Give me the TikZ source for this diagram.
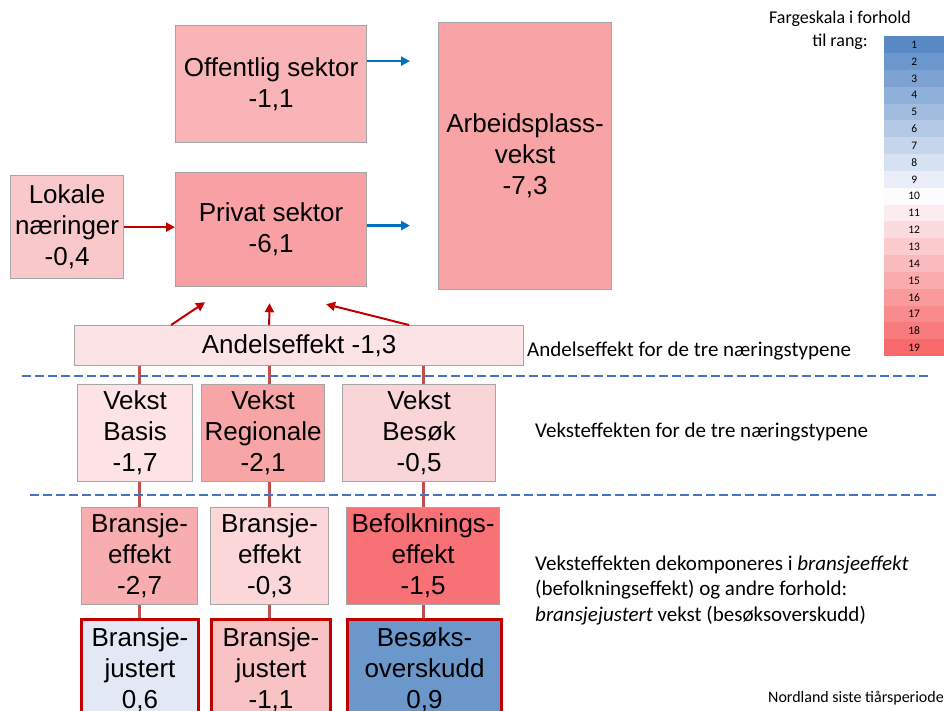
\documentclass[tikz,border=0pt]{standalone}
\usepackage{fontspec}
\setmainfont{Carlito}
\newfontfamily\boxfont{Liberation Sans}
\usetikzlibrary{arrows.meta, backgrounds}

\definecolor{scaleblue}{HTML}{5A8AC6}
\definecolor{scalewhite}{HTML}{FCFCFF}
\definecolor{scalered}{HTML}{F8696B}
\definecolor{darkred}{HTML}{C00000}
\definecolor{arrowblue}{HTML}{0070C0}
\definecolor{sepblue}{HTML}{4472C4}
\definecolor{linkred}{HTML}{C0504D}
\definecolor{offc}{HTML}{F8B4B6}
\definecolor{privc}{HTML}{F8A0A4}
\definecolor{arbc}{HTML}{F8A4A7}
\definecolor{lokc}{HTML}{F9C8CB}
\definecolor{andc}{HTML}{FCE4E6}
\definecolor{vbasc}{HTML}{FDE3E5}
\definecolor{vregc}{HTML}{F8A5A8}
\definecolor{vbesc}{HTML}{FAD5D8}
\definecolor{bbasc}{HTML}{F8AEB1}
\definecolor{bregc}{HTML}{FBD7DA}
\definecolor{bbesc}{HTML}{F87176}
\definecolor{jbasc}{HTML}{E2E9F4}
\definecolor{jregc}{HTML}{F9C2C5}
\definecolor{jbesc}{HTML}{6C97CB}

\begin{document}
\begin{tikzpicture}[x=1pt, y=-1pt,
	box/.style={draw=gray!70, line width=1.2pt, inner sep=0pt, align=center, anchor=north west,
		font=\boxfont\fontsize{26}{31}\selectfont},
	resbox/.style={box, draw=darkred, line width=3pt},
	redarrow/.style={draw=darkred, line width=2pt, -{Triangle[length=9pt,width=9pt]}},
	bluearrow/.style={draw=arrowblue, line width=2.5pt, -{Triangle[length=9pt,width=9pt]}, shorten >=28pt},
	link/.style={draw=linkred, line width=3pt},
	sep/.style={draw=sepblue, line width=2.5pt, dash pattern=on 9pt off 4pt},
	cell/.style={anchor=north west, minimum width=60pt, minimum height=17pt, inner sep=0pt,
		font=\fontsize{11.5}{12}\selectfont},
	note/.style={anchor=west, align=left, inner sep=0pt, font=\fontsize{21}{25.5}\selectfont}]
	\useasboundingbox (0,0) rectangle (944,710);
	\clip (0,0) rectangle (944,710);
	
	% top level
	\node[box, fill=offc, minimum width=191pt, minimum height=117pt] (offentlig) at (175,25) {Offentlig sektor\\-1,1};
	\node[box, fill=privc, minimum width=191pt, minimum height=114pt] (privat) at (175,172) {Privat sektor\\-6,1};
	\node[box, fill=arbc, minimum width=173pt, minimum height=267pt] (arbeid) at (438,22) {Arbeidsplass-\\vekst\\-7,3};
	\node[box, fill=lokc, minimum width=113pt, minimum height=103pt] (lokale) at (10,175) {Lokale\\næringer\\-0,4};
	\node[box, fill=andc, minimum width=449pt, minimum height=40pt] (andel) at (74,325) {Andelseffekt -1,3};
	
	% vekst per naeringstype
	\node[box, fill=vbasc, minimum width=115pt, minimum height=97pt] (vbasis) at (77,384) {Vekst\\Basis\\-1,7};
	\node[box, fill=vregc, minimum width=123pt, minimum height=97pt] (vreg) at (201,384) {Vekst\\Regionale\\-2,1};
	\node[box, fill=vbesc, minimum width=153pt, minimum height=97pt] (vbes) at (342,384) {Vekst\\Besøk\\-0,5};
	
	\node[box, fill=bbasc, minimum width=116pt, minimum height=97pt] (bbasis) at (81,507) {Bransje-\\effekt\\-2,7};
	\node[box, fill=bregc, minimum width=118pt, minimum height=97pt] (breg) at (210,507) {Bransje-\\effekt\\-0,3};
	\node[box, fill=bbesc, minimum width=153pt, minimum height=97pt] (bbes) at (346,507) {Befolknings-\\effekt\\-1,5};
	
	\node[resbox, fill=jbasc, minimum width=117pt, minimum height=100pt] (jbasis) at (80,618) {Bransje-\\justert\\0,6};
	\node[resbox, fill=jregc, minimum width=119pt, minimum height=100pt] (jreg) at (210,618) {Bransje-\\justert\\-1,1};
	\node[resbox, fill=jbesc, minimum width=154pt, minimum height=100pt] (jbes) at (346,618) {Besøks-\\overskudd\\0,9};
	
	\begin{scope}[on background layer]
		\draw[link] (bbasis.north) -- (bbasis.north |- andel.south);
		\draw[link] (breg.north) -- (breg.north |- andel.south);
		\draw[link] (bbes.north) -- (bbes.north |- andel.south);
		\draw[link] (bbasis.south) -- (bbasis.south |- jbasis.north);
		\draw[link] (breg.south) -- (breg.south |- jreg.north);
		\draw[link] (bbes.south) -- (bbes.south |- jbes.north);
	\end{scope}
	
	\coordinate (offout) at ([yshift=23pt]offentlig.east);
	\coordinate (privout) at ([yshift=4pt]privat.east);
	\draw[bluearrow] (offout) -- (offout -| arbeid.west);
	\draw[bluearrow] (privout) -- (privout -| arbeid.west);
	\draw[redarrow] (lokale.east) -- (lokale.east -| privat.west);
	\draw[redarrow] ([xshift=-128pt]andel.north) -- ([xshift=-66pt,yshift=-15pt]privat.south);
	\draw[redarrow] ([xshift=-30pt]andel.north) -- ([xshift=-1.5pt,yshift=-16pt]privat.south);
	\draw[redarrow] ([xshift=110pt]andel.north) -- ([xshift=55pt,yshift=-17pt]privat.south);
	
	\draw[sep] (22,376) -- (930,376);
	\draw[sep] (30,495) -- (940,495);
	
	\node[note] (andelnote) at (527,351) {Andelseffekt for de tre næringstypene};
	\node[note] (vekstnote) at (535,432) {Veksteffekten for de tre næringstypene};
	\node[note] (dekompnote) at (535,590) {Veksteffekten dekomponeres i \textit{bransjeeffekt}\\(befolkningseffekt) og andre forhold:\\\textit{bransjejustert} vekst (besøksoverskudd)};
	\node[anchor=east, inner sep=0pt, font=\fontsize{16}{19}\selectfont] (region) at (944,698) {Nordland siste tiårsperiode};
	
	% fargeskala
	\node[align=center, font=\fontsize{18}{23}\selectfont] (scalelabel) at (840,30) {Fargeskala i forhold\\til rang:};
	\foreach \i in {1,...,19}{
		\ifnum\i<11
			\pgfmathtruncatemacro{\p}{(\i-1)*100/9}
			\colorlet{cellc}{scalewhite!\p!scaleblue}
		\else
			\pgfmathtruncatemacro{\p}{(\i-10)*100/9}
			\colorlet{cellc}{scalered!\p!scalewhite}
		\fi
		\node[cell, fill=cellc] (sc\i) at (884,{36+16.84*(\i-1)}) {\i};
	}
	
\end{tikzpicture}
\end{document}
